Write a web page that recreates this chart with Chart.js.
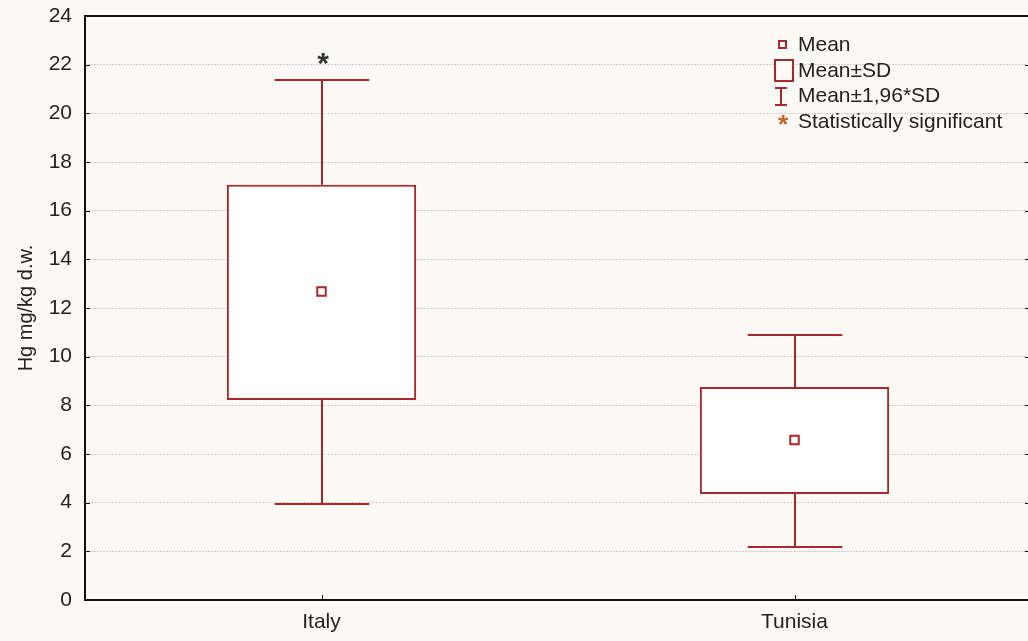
<!DOCTYPE html>
<html>
<head>
<meta charset="utf-8">
<script src="https://cdn.jsdelivr.net/npm/chart.js@4.4.1/dist/chart.umd.min.js"></script>
<style>
  html, body { margin: 0; padding: 0; background: #fdf9f4; overflow: hidden; }
  #wrap { width: 1039px; height: 641px; }
</style>
</head>
<body>
<div id="wrap"><canvas id="c" width="1039" height="641"></canvas></div>
<script>
// Hg concentration by origin: mean, mean±SD box, mean±1.96*SD whiskers
const categories = ['Italy', 'Tunisia'];
const means      = [12.68, 6.58];
const sdLow      = [8.22, 4.36];
const sdHigh     = [17.06, 8.75];
const ciLow      = [3.95, 2.18];
const ciHigh     = [21.37, 10.89];
const significant = [true, false];
const yTicks = [0, 2, 4, 6, 8, 10, 12, 14, 16, 18, 20, 22, 24];
const legendLabels = ['Mean', 'Mean±SD', 'Mean±1,96*SD', 'Statistically significant'];
const yTitle = 'Hg mg/kg d.w.';

const RED = '#a8282c';
const TEXT = '#222222';
const FONT = "'Liberation Sans', Arial, sans-serif";

const frameAndWhiskers = {
  id: 'frameAndWhiskers',
  afterDatasetsDraw(chart) {
    const { ctx, chartArea: a, scales: { x, y } } = chart;
    const boxMeta = chart.getDatasetMeta(0);
    ctx.save();
    // whiskers
    ctx.strokeStyle = RED;
    ctx.lineWidth = 2;
    categories.forEach((c, i) => {
      const cx = Math.round(x.getPixelForValue(i));
      const half = boxMeta.data[i].width / 4;
      const pairs = [[sdHigh[i], ciHigh[i]], [sdLow[i], ciLow[i]]];
      pairs.forEach(([from, to]) => {
        const y1 = y.getPixelForValue(from), y2 = Math.round(y.getPixelForValue(to));
        ctx.beginPath();
        ctx.moveTo(cx, y1); ctx.lineTo(cx, y2);
        ctx.moveTo(cx - half, y2); ctx.lineTo(cx + half, y2);
        ctx.stroke();
      });
      if (significant[i]) {
        ctx.fillStyle = '#333';
        ctx.font = 'bold 30px ' + FONT;
        ctx.textAlign = 'center';
        ctx.textBaseline = 'top';
        ctx.fillText('*', cx + 1, y.getPixelForValue(ciHigh[i]) - 30);
      }
    });
    // frame
    ctx.strokeStyle = '#111';
    ctx.lineWidth = 2;
    ctx.strokeRect(a.left, a.top, a.right - a.left, a.bottom - a.top);
    // inner ticks
    ctx.lineWidth = 1;
    yTicks.forEach(v => {
      const py = Math.round(y.getPixelForValue(v)) + 0.5;
      ctx.beginPath();
      ctx.moveTo(a.left, py); ctx.lineTo(a.left + 5, py);
      ctx.moveTo(a.right - 6, py); ctx.lineTo(a.right, py);
      ctx.stroke();
    });
    categories.forEach((c, i) => {
      const px = Math.round(x.getPixelForValue(i)) + 0.5;
      ctx.beginPath();
      ctx.moveTo(px, a.bottom); ctx.lineTo(px, a.bottom - 5);
      ctx.stroke();
    });
    ctx.restore();
  },
  afterDraw(chart) {
    const { ctx } = chart;
    ctx.save();
    ctx.strokeStyle = RED;
    ctx.lineWidth = 2;
    // Mean icon
    ctx.fillStyle = '#ffffff';
    ctx.fillRect(779, 41, 7, 7);
    ctx.strokeRect(779, 41, 7, 7);
    // Mean±SD icon
    ctx.fillStyle = '#fffaf5';
    ctx.fillRect(775, 60, 18, 21);
    ctx.strokeRect(775, 60, 18, 21);
    // Mean±1,96*SD icon
    ctx.beginPath();
    ctx.moveTo(775, 88); ctx.lineTo(787, 88);
    ctx.moveTo(781, 88); ctx.lineTo(781, 105);
    ctx.moveTo(775, 105); ctx.lineTo(787, 105);
    ctx.stroke();
    // significance icon
    ctx.fillStyle = '#c8622c';
    ctx.font = 'bold 26px ' + FONT;
    ctx.textAlign = 'center';
    ctx.textBaseline = 'top';
    ctx.fillText('*', 783, 113);
    // labels
    ctx.fillStyle = TEXT;
    ctx.font = '21px ' + FONT;
    ctx.textAlign = 'left';
    ctx.textBaseline = 'middle';
    const ys = [45, 71, 96, 122];
    legendLabels.forEach((t, k) => ctx.fillText(t, 798, ys[k]));
    ctx.restore();
  }
};

new Chart(document.getElementById('c'), {
  type: 'bar',
  data: {
    labels: categories,
    datasets: [
      {
        type: 'bar',
        data: categories.map((c, i) => [sdLow[i], sdHigh[i]]),
        backgroundColor: '#ffffff',
        borderColor: RED,
        borderWidth: 2,
        borderSkipped: false,
        barPercentage: 0.40,
        categoryPercentage: 1.0,
        order: 2
      },
      {
        type: 'line',
        data: means,
        showLine: false,
        pointStyle: 'rect',
        pointRadius: 6,
        pointBorderWidth: 2,
        pointBackgroundColor: '#ffffff',
        pointBorderColor: RED,
        order: 1
      }
    ]
  },
  options: {
    responsive: false,
    animation: false,
    layout: { padding: { top: 16, right: 0, left: 0, bottom: 0 } },
    plugins: { legend: { display: false }, tooltip: { enabled: false } },
    scales: {
      x: {
        offset: true,
        grid: { display: false, drawTicks: false },
        border: { display: false },
        ticks: { color: TEXT, font: { family: FONT, size: 21 }, padding: 10 },
        afterFit(s) { s.height = 41; s.paddingLeft = 0; s.paddingRight = 0; }
      },
      y: {
        min: 0, max: 24,
        afterBuildTicks(s) { s.ticks = yTicks.map(v => ({ value: v })); },
        grid: { color: '#cdcdcd', lineWidth: 1, drawTicks: false },
        border: { display: false, dash: [2, 1] },
        ticks: { color: TEXT, font: { family: FONT, size: 21 }, padding: 13 },
        title: { display: true, text: yTitle, color: TEXT, font: { family: FONT, size: 20 }, padding: { top: 14, bottom: 0 } },
        afterFit(s) { s.width = 85; s.paddingTop = 0; s.paddingBottom = 0; }
      }
    }
  },
  plugins: [frameAndWhiskers]
});
</script>
</body>
</html>
